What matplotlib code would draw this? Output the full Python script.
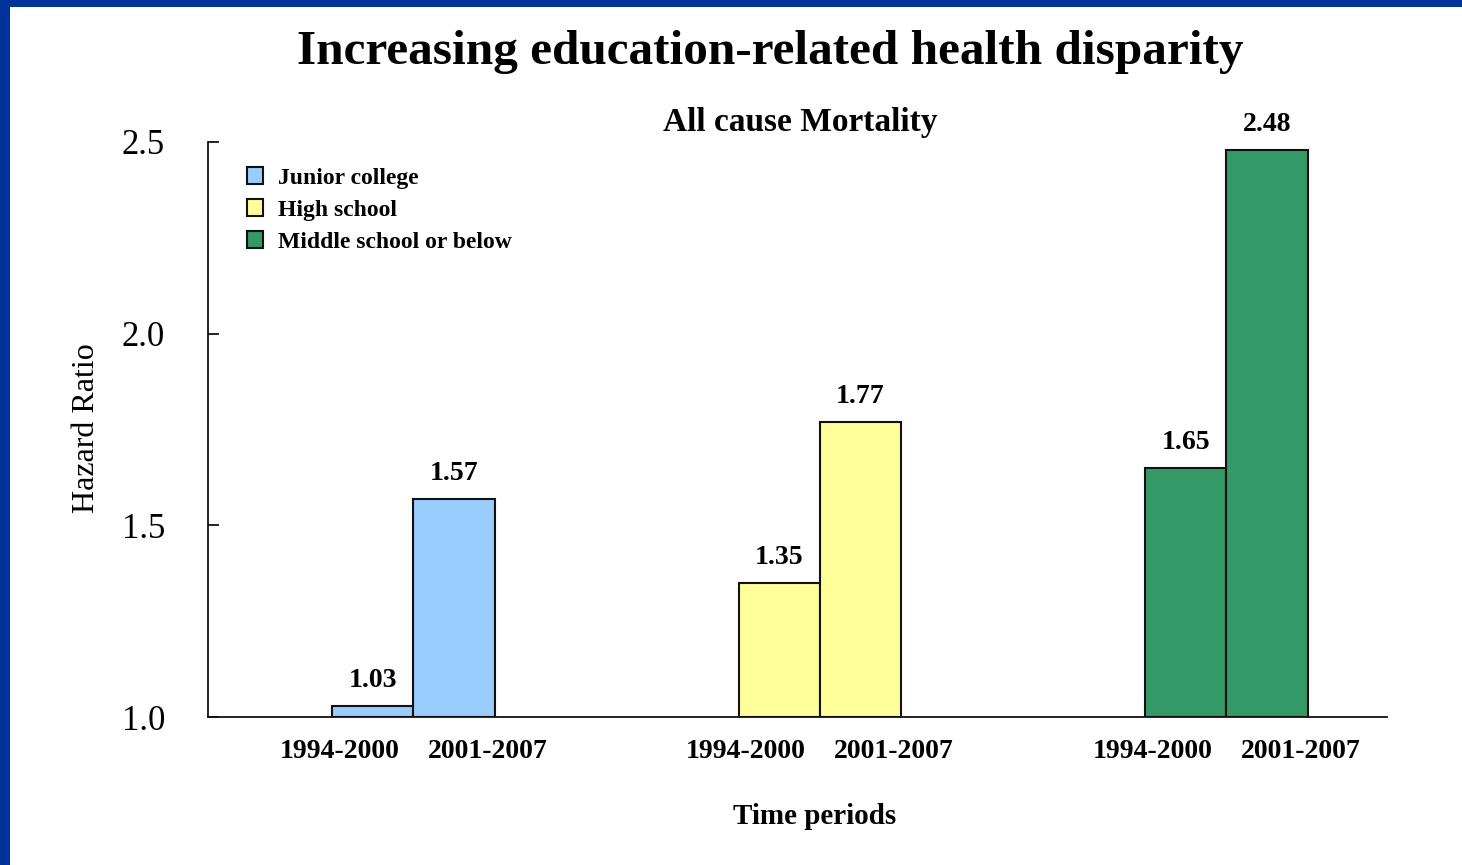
import matplotlib
matplotlib.use("Agg")
import matplotlib.pyplot as plt
from matplotlib.patches import Rectangle
import numpy as np

# Hazard ratios for all-cause mortality by education level and period
groups = ["Junior college", "High school", "Middle school or below"]
periods = ["1994-2000", "2001-2007"]
hr_1994_2000 = [1.03, 1.35, 1.65]
hr_2001_2007 = [1.57, 1.77, 2.48]
colors = ["#99CCFF", "#FFFF99", "#339966"]
yticks = [1.0, 1.5, 2.0, 2.5]

plt.rcParams["font.family"] = ["Liberation Serif", "DejaVu Serif"]

fig = plt.figure(figsize=(14.62, 8.65), dpi=100)
fig.patch.set_facecolor("white")

# Blue frame along the top and left edges
fig.patches.append(Rectangle((0, 1 - 7 / 865), 1, 7 / 865, transform=fig.transFigure,
                             facecolor="#003399", edgecolor="none", zorder=0))
fig.patches.append(Rectangle((0, 0), 10 / 1462, 1, transform=fig.transFigure,
                             facecolor="#003399", edgecolor="none", zorder=0))

ax = fig.add_axes([208 / 1462, 1 - 717 / 865, (1387 - 208) / 1462, (717 - 142) / 865])

x = np.arange(len(groups))
w = 0.2
for i in range(len(groups)):
    for j, vals in enumerate([hr_1994_2000, hr_2001_2007]):
        xc = x[i] + (j - 0.5) * w
        ax.bar(xc, vals[i] - 1.0, bottom=1.0, width=w, color=colors[i],
               edgecolor="#111111", linewidth=1.5, zorder=2,
               label=groups[i] if j == 0 else None)
        ax.text(xc, vals[i] + 0.033, f"{vals[i]:.2f}", ha="center", va="bottom",
                fontsize=20, fontweight="bold")

ax.set_xlim(-0.505, 2.395)
ax.set_ylim(1.0, 2.5)
ax.set_yticks(yticks)
ax.set_yticklabels([f"{v:.1f}" for v in yticks], fontsize=25)
ax.tick_params(axis="y", direction="in", length=8, width=1.2, pad=31)

# Period labels under each group
xt = []
xl = []
for i in range(len(groups)):
    xt += [x[i] - 0.182, x[i] + 0.182]
    xl += periods
ax.set_xticks(xt)
ax.set_xticklabels(xl, fontsize=20, fontweight="bold")
ax.tick_params(axis="x", length=0, pad=16)

for s in ["top", "right"]:
    ax.spines[s].set_visible(False)
for s in ["left", "bottom"]:
    ax.spines[s].set_linewidth(1.3)
    ax.spines[s].set_color("#111111")

fig.text(86 / 1462, 1 - 428 / 865, "Hazard Ratio", rotation=90,
         ha="center", va="center", fontsize=23)
fig.text(815 / 1462, 1 - 816 / 865, "Time periods",
         ha="center", va="center", fontsize=21, fontweight="bold")

leg = ax.legend(loc="upper left", bbox_to_anchor=(0.019, 0.985), frameon=False,
                prop={"size": 17, "weight": "bold"}, handlelength=0.7,
                handleheight=0.7, handletextpad=0.6, labelspacing=0.45,
                borderaxespad=0.3)

fig.text(770 / 1462, 1 - 52 / 865, "Increasing education-related health disparity",
         ha="center", va="center", fontsize=35.5, fontweight="bold")
fig.text(800 / 1462, 1 - 123 / 865, "All cause Mortality",
         ha="center", va="center", fontsize=24, fontweight="bold")

fig.savefig("out.png", dpi=100, facecolor="white")
